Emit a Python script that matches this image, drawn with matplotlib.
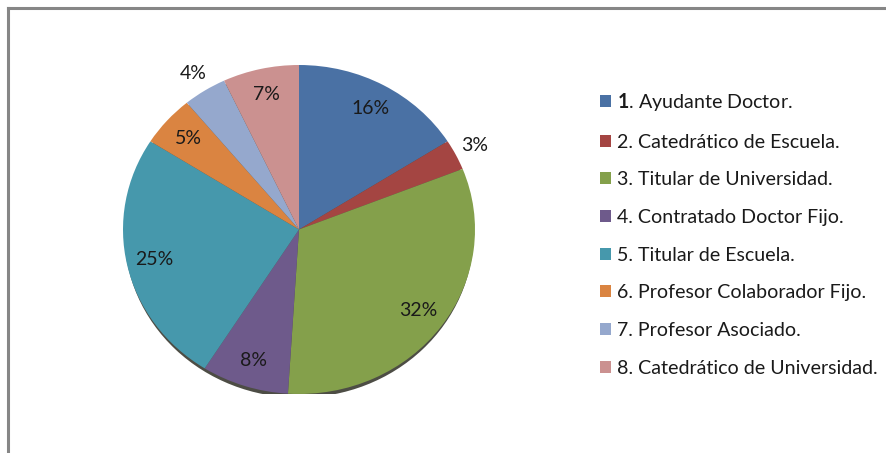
import matplotlib
matplotlib.use("Agg")
import matplotlib.pyplot as plt
from matplotlib.patches import Patch, Ellipse
from matplotlib.lines import Line2D
import numpy as np

categories = [
    "1. Ayudante Doctor.",
    "2. Catedrático de Escuela.",
    "3. Titular de Universidad.",
    "4. Contratado Doctor Fijo.",
    "5. Titular de Escuela.",
    "6. Profesor Colaborador Fijo.",
    "7. Profesor Asociado.",
    "8. Catedrático de Universidad.",
]
values = [16, 3, 32, 8, 25, 5, 4, 7]
colors = ["#4A71A4", "#A44542", "#84A04B", "#6E5A8B", "#4698AC", "#DA8441", "#95A8CD", "#CB9190"]

plt.rcParams['font.family'] = ['Lato', 'DejaVu Sans']
plt.rcParams['mathtext.fontset'] = 'custom'
plt.rcParams['mathtext.bf'] = 'Lato:bold'
plt.rcParams['mathtext.rm'] = 'Lato'

W, H = 886, 453
fig = plt.figure(figsize=(W / 100, H / 100), dpi=100)
fig.patch.set_facecolor("white")

# frame lines (top and left)
fig.add_artist(Line2D([7.5 / W, 1.0], [1 - 7.5 / H, 1 - 7.5 / H], color="#868686", lw=2.2, transform=fig.transFigure))
fig.add_artist(Line2D([7.5 / W, 7.5 / W], [0, 1 - 7.5 / H], color="#868686", lw=2.2, transform=fig.transFigure))

left, right, top, bottom = 123, 475, 65, 394
ax = fig.add_axes([left / W, (H - bottom) / H, (right - left) / W, (bottom - top) / H])

# shadow beneath the pie
ax.add_patch(Ellipse((0.0, -0.022), 1.985, 2.0, facecolor="#2e2e24", edgecolor="none", zorder=0, alpha=0.85))

wedges, texts, autotexts = ax.pie(
    values, colors=colors, startangle=90, counterclock=False,
    autopct=lambda p: f"{p:.0f}%", pctdistance=0.84,
    wedgeprops=dict(linewidth=0, edgecolor="none"),
    textprops=dict(fontsize=14, color="#1a1a1a"),
)
for w in wedges:
    w.set_zorder(1)
for w, t, v in zip(wedges, autotexts, values):
    if v < 5:
        ang = np.deg2rad((w.theta1 + w.theta2) / 2)
        t.set_position((1.12 * np.cos(ang), 1.12 * np.sin(ang)))
    t.set_zorder(3)

ax.set_aspect("auto")
ax.set_xlim(-1, 1)
ax.set_ylim(-1, 1)
ax.axis("off")

labels = [r"$\mathbf{1}$. Ayudante Doctor."] + categories[1:]
handles = [Patch(facecolor=c, edgecolor="none") for c in colors]
leg = fig.legend(
    handles, labels, loc="upper left", bbox_to_anchor=(600 / W, 1 - 91 / H),
    frameon=False, fontsize=14.1, handlelength=0.56, handleheight=0.56,
    handletextpad=0.3, labelspacing=1.055, borderaxespad=0, borderpad=0,
)
for t in leg.get_texts():
    t.set_color("#1a1a1a")

fig.savefig("out.png", dpi=100, facecolor="white")
